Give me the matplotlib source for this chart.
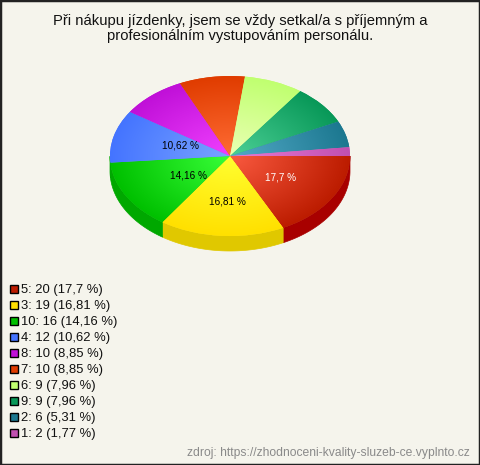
import numpy as np
import matplotlib
matplotlib.use('Agg')
import matplotlib.pyplot as plt
from matplotlib.colors import LinearSegmentedColormap
from matplotlib.patches import Rectangle

title = 'Při nákupu jízdenky, jsem se vždy setkal/a s příjemným a\nprofesionálním vystupováním personálu.'
source = 'zdroj: https://zhodnoceni-kvality-sluzeb-ce.vyplnto.cz'

categories = ['5', '3', '10', '4', '8', '7', '6', '9', '2', '1']
counts = [20, 19, 16, 12, 10, 10, 9, 9, 6, 2]
percents = ['17,7', '16,81', '14,16', '10,62', '8,85', '8,85', '7,96', '7,96', '5,31', '1,77']

# slice colours: centre of the gradient, rim of the gradient, side wall
inner_colors = ['#fa5a40', '#ffff30', '#38ff38', '#7aa4ff', '#f040ff',
                '#ff6c34', '#eaffb4', '#4cd096', '#54aac8', '#ea7cd4']
outer_colors = ['#bc1c00', '#ffe000', '#00c000', '#4474ff', '#c010d8',
                '#e03c00', '#c0ff70', '#089858', '#1c7890', '#c050b0']
# blue side is only a sliver, the original shows it as green
side_colors = ['#a80000', '#e0c800', '#00a800', '#00a800', '#9000a8',
               '#a82c00', '#90c050', '#067040', '#145a6c', '#903c84']

W, H = 480, 465
CX, CY = 230, 156
RX, RY = 120, 80
DEPTH = 15
BG = '#f5f4ec'

# labels only on the big slices, placed where the original has them
label_pos = {0: (281, 177), 1: (227, 201), 2: (189, 176), 3: (180, 146)}
label_color = {0: 'white'}

plt.rcParams['font.family'] = ['Liberation Sans', 'DejaVu Sans']

fig = plt.figure(figsize=(W / 100, H / 100), dpi=100, facecolor=BG)
ax = fig.add_axes([0, 0, 1, 1])
ax.axis('off')


def fx(px):
    return px / W


def fy(py):
    return 1 - py / H


wedges, _ = ax.pie(counts, startangle=0, counterclock=False, radius=1,
                   colors=outer_colors, wedgeprops=dict(linewidth=0))

# one pie unit is RX pixels wide and RY pixels high
xlim = (-CX / RX, (W - CX) / RX)
ylim = ((CY - H) / RY, CY / RY)
depth = DEPTH / RY

# side wall, only the part of each slice that faces the viewer
for wedge, col in zip(wedges, side_colors):
    t = np.radians(np.linspace(wedge.theta1, wedge.theta2, 200))
    t = t[np.sin(t) <= 0]
    if len(t) < 2:
        continue
    xs = np.concatenate([np.cos(t), np.cos(t[::-1])])
    ys = np.concatenate([np.sin(t), np.sin(t[::-1]) - depth])
    ax.fill(xs, ys, color=col, lw=0.5, zorder=1)

# radial gradient inside each slice
gx, gy = np.meshgrid(np.linspace(-1, 1, 400), np.linspace(-1, 1, 400))
dist = np.clip(np.hypot(gx, gy), 0, 1)
for wedge, c_in, c_out in zip(wedges, inner_colors, outer_colors):
    wedge.set_zorder(2)
    cmap = LinearSegmentedColormap.from_list('s', [c_in, c_out])
    im = ax.imshow(dist, cmap=cmap, vmin=0, vmax=1, extent=(-1, 1, -1, 1),
                   origin='lower', aspect='auto', zorder=3, interpolation='bilinear')
    im.set_clip_path(wedge)

ax.set_xlim(xlim)
ax.set_ylim(ylim)
ax.set_aspect('auto')

for i, (px, py) in label_pos.items():
    fig.text(fx(px), fy(py), f'{percents[i]} %', ha='center', va='center',
             fontsize=7.2, color=label_color.get(i, 'black'), zorder=5)

fig.text(fx(240), fy(28.5), title, ha='center', va='center', fontsize=10.65,
         linespacing=1.12, color='#111111')

# legend
for i, (cat, n, pct) in enumerate(zip(categories, counts, percents)):
    y = 289 + i * 16
    fig.add_artist(Rectangle((fx(9.5), fy(y + 4)), 8 / W, 8 / H, transform=fig.transFigure,
                             facecolor=outer_colors[i], edgecolor='black', lw=1))
    fig.text(fx(21), fy(y + 0.7), f'{cat}: {n} ({pct} %)', ha='left', va='center',
             fontsize=9.4, color='#111111')

fig.text(fx(470), fy(453), source, ha='right', va='center', fontsize=8.72, color='#8a8a8a')

# dark frame around the picture
fig.add_artist(Rectangle((0, 0), 1, 1, transform=fig.transFigure, fill=False,
                         edgecolor='#222222', lw=2.5))

fig.savefig('out.png', dpi=100, facecolor=BG)
